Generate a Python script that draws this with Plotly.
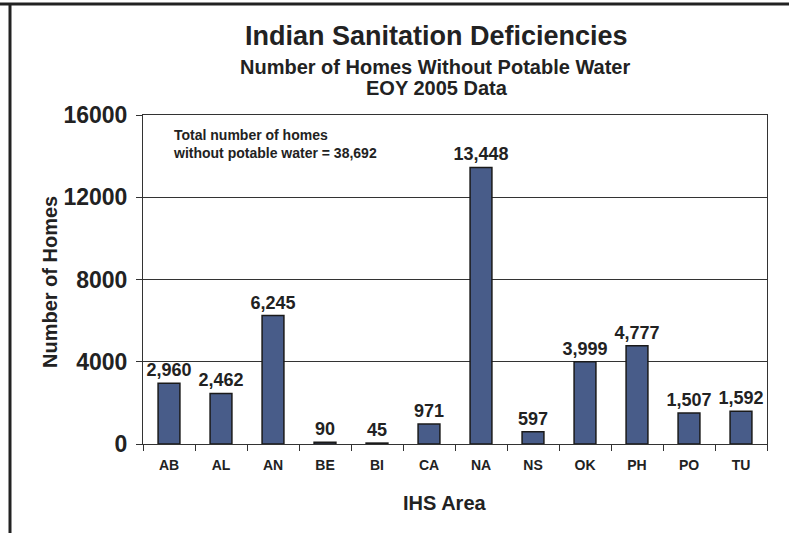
import plotly.graph_objects as go

areas = ["AB", "AL", "AN", "BE", "BI", "CA", "NA", "NS", "OK", "PH", "PO", "TU"]
homes = [2960, 2462, 6245, 90, 45, 971, 13448, 597, 3999, 4777, 1507, 1592]
y_ticks = [0, 4000, 8000, 12000, 16000]

title = "Indian Sanitation Deficiencies"
subtitle1 = "Number of Homes Without Potable Water"
subtitle2 = "EOY 2005 Data"
note = "Total number of homes<br>without potable water = 38,692"

W, H = 789, 533
L, R, T, B = 143, 767, 115, 444
pw, ph = R - L, B - T


def px_x(x):
    return (x - L) / pw


def px_y(y):
    return (B - y) / ph


FONT = "Liberation Sans, Arial, sans-serif"
TXT = "#222222"

fig = go.Figure(
    go.Bar(
        x=areas,
        y=homes,
        marker=dict(color="#485C89", line=dict(color="#1a1a1a", width=1.5)),
        texttemplate="<b>%{y:,}</b>",
        textposition="outside",
        constraintext="none",
        textfont=dict(family=FONT, size=18, color=TXT),
        cliponaxis=False,
    )
)

fig.update_layout(
    width=W,
    height=H,
    margin=dict(l=L, r=W - R, t=T, b=H - B),
    paper_bgcolor="white",
    plot_bgcolor="white",
    bargap=0.58,
    showlegend=False,
    font=dict(family=FONT, color=TXT),
)

fig.update_xaxes(
    showline=True,
    linecolor="#333",
    linewidth=1,
    mirror=True,
    ticks="outside",
    tickson="boundaries",
    ticklen=6,
    tickcolor="#333",
    ticklabelstandoff=8,
    tickfont=dict(family=FONT, size=14, color=TXT, weight="bold"),
    showgrid=False,
)
fig.update_yaxes(
    range=[0, 16000],
    tickvals=y_ticks,
    tickformat="d",
    showline=True,
    linecolor="#333",
    linewidth=1,
    mirror=True,
    ticks="outside",
    ticklen=6,
    tickcolor="#333",
    ticklabelstandoff=4,
    tickfont=dict(family=FONT, size=23, color=TXT, weight="bold"),
    showgrid=True,
    gridcolor="#333",
    gridwidth=1,
    zeroline=False,
)

ann = [
    dict(text="<b>%s</b>" % title, x=px_x(436), y=px_y(36), size=27),
    dict(text="<b>%s</b>" % subtitle1, x=px_x(435), y=px_y(67), size=20),
    dict(text="<b>%s</b>" % subtitle2, x=px_x(437), y=px_y(88), size=20),
    dict(text="<b>IHS Area</b>", x=px_x(445), y=px_y(503), size=20),
]
for a in ann:
    fig.add_annotation(
        text=a["text"], x=a["x"], y=a["y"], xref="paper", yref="paper",
        xanchor="center", yanchor="middle", showarrow=False,
        font=dict(family=FONT, size=a["size"], color=TXT),
    )

fig.add_annotation(
    text="<b>Number of Homes</b>", x=px_x(50), y=px_y(282), xref="paper", yref="paper",
    xanchor="center", yanchor="middle", showarrow=False, textangle=-90,
    font=dict(family=FONT, size=20, color=TXT),
)
fig.add_annotation(
    text="<b>%s</b>" % note, x=px_x(171), y=px_y(144), xref="paper", yref="paper",
    xanchor="left", yanchor="middle", align="left", showarrow=False,
    font=dict(family=FONT, size=14, color=TXT),
)

# frame lines of the original picture (top and left)
fig.add_shape(type="line", xref="paper", yref="paper",
              x0=px_x(0), x1=px_x(W), y0=px_y(4), y1=px_y(4),
              line=dict(color="#222", width=3))
fig.add_shape(type="line", xref="paper", yref="paper",
              x0=px_x(10), x1=px_x(10), y0=px_y(3), y1=px_y(H),
              line=dict(color="#222", width=3))

fig.write_html(
    "out.html",
    config={"displayModeBar": False},
    post_script="document.body.style.margin='0';",
)
